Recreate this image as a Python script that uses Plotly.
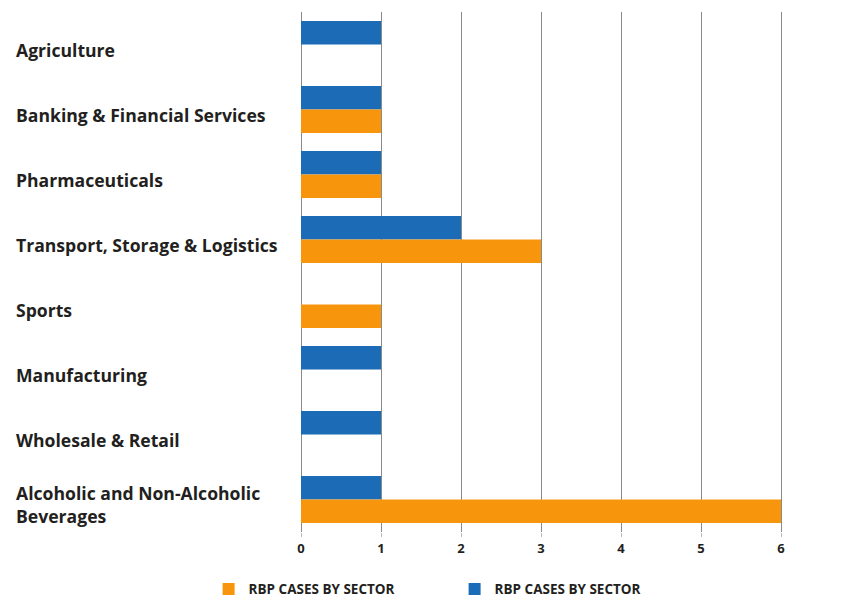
import plotly.graph_objects as go

# Sectors, top to bottom
sectors = [
    "Agriculture",
    "Banking & Financial Services",
    "Pharmaceuticals",
    "Transport, Storage & Logistics",
    "Sports",
    "Manufacturing",
    "Wholesale & Retail",
    "Alcoholic and Non-Alcoholic<br>Beverages",
]
# Case counts per sector for the two series
blue_cases = [1, 1, 1, 2, 0, 1, 1, 1]
orange_cases = [0, 1, 1, 3, 1, 0, 0, 6]
series_name = "RBP CASES BY SECTOR"
x_ticks = [0, 1, 2, 3, 4, 5, 6, 7]

BLUE = "#1b6bb6"
ORANGE = "#f7960c"
TEXT = "#231f20"

fig = go.Figure()
fig.add_trace(go.Bar(
    y=sectors, x=blue_cases, orientation="h", name=series_name,
    marker=dict(color=BLUE, line=dict(width=0)), legendrank=2,
))
fig.add_trace(go.Bar(
    y=sectors, x=orange_cases, orientation="h", name=series_name,
    marker=dict(color=ORANGE, line=dict(width=0)), legendrank=1,
))

# Left-aligned sector labels
for s in sectors:
    fig.add_annotation(
        x=-0.5125, xref="paper", y=s, yref="y", yshift=-5, text=s,
        showarrow=False, xanchor="left", yanchor="middle", align="left",
        font=dict(family="Open Sans", size=17.6, color=TEXT, weight="bold"),
    )

fig.update_layout(
    width=861, height=605,
    margin=dict(l=301, r=0, t=12, b=67),
    paper_bgcolor="white", plot_bgcolor="white",
    barmode="group", bargap=0.28, bargroupgap=0.0,
    showlegend=True,
    legend=dict(
        orientation="h", x=-0.165, xanchor="left", y=-0.08, yanchor="top",
        font=dict(family="Open Sans", size=13.5, color=TEXT, weight="bold"),
        entrywidth=201, entrywidthmode="pixels", itemsizing="constant",
        bgcolor="rgba(0,0,0,0)",
    ),
    xaxis=dict(
        range=[0, 7], tickmode="array", tickvals=x_ticks,
        ticktext=[str(v) for v in x_ticks],
        showgrid=True, gridcolor="#8a8a8a", gridwidth=1,
        zeroline=True, zerolinecolor="#8a8a8a", zerolinewidth=1,
        showline=False, ticks="outside", ticklen=4, tickcolor="#bbbbbb",
        tickfont=dict(family="Open Sans", size=13, color=TEXT, weight="bold"),
        fixedrange=True,
    ),
    yaxis=dict(
        autorange="reversed", showticklabels=False, showgrid=False,
        zeroline=False, ticks="", fixedrange=True,
    ),
)

fig.write_html("out.html")
